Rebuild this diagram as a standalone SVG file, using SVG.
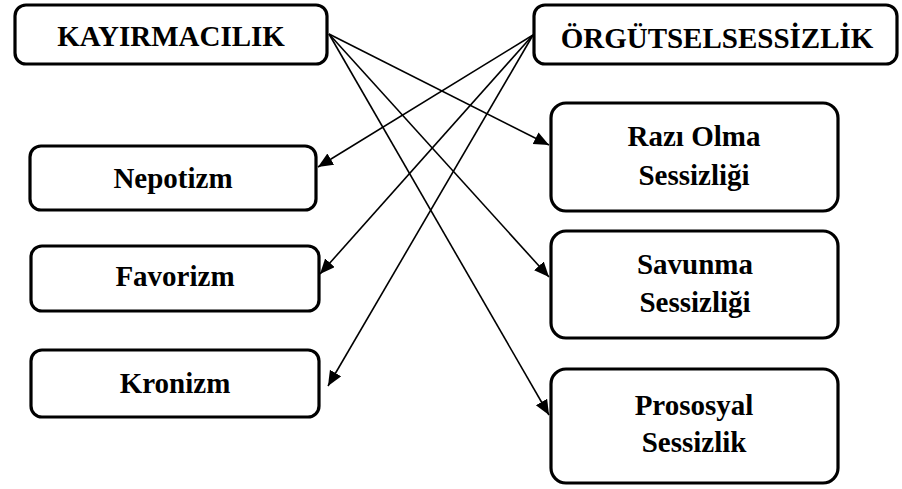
<svg xmlns="http://www.w3.org/2000/svg" width="902" height="489" viewBox="0 0 902 489">
<style>
.box{fill:#fff;stroke:#000;stroke-width:3.2}
.t{font-family:'Liberation Serif','Times New Roman',serif;font-weight:700;font-size:29px;fill:#000;text-anchor:middle}
.c{stroke:#000;stroke-width:1.6;fill:none;marker-end:url(#ah)}
</style>
<defs>
<marker id="ah" markerUnits="userSpaceOnUse" markerWidth="16" markerHeight="14" refX="15" refY="6.5" orient="auto">
<path d="M0,0 L15,6.5 L0,13 z" fill="#000"/>
</marker>
</defs>
<rect width="902" height="489" fill="#fff"/>
<g id="connectors">
<line class="c" x1="329" y1="34" x2="549" y2="145"/>
<line class="c" x1="329" y1="34" x2="549" y2="277"/>
<line class="c" x1="329" y1="34" x2="549" y2="415"/>
<line class="c" x1="533" y1="35" x2="318" y2="167"/>
<line class="c" x1="533" y1="35" x2="320" y2="274"/>
<line class="c" x1="533" y1="35" x2="328" y2="386"/>
</g>
<g id="kayirmacilik">
<rect class="box" x="15" y="5" width="312" height="59" rx="11"/>
<text class="t" x="171" y="46">KAYIRMACILIK</text>
</g>
<g id="orgutsel">
<rect class="box" x="534" y="5" width="363" height="59" rx="11"/>
<text class="t" x="717" y="48">ÖRGÜTSELSESSİZLİK</text>
</g>
<g id="nepotizm">
<rect class="box" x="30" y="146" width="286" height="64" rx="11"/>
<text class="t" x="173" y="188">Nepotizm</text>
</g>
<g id="favorizm">
<rect class="box" x="31" y="246" width="288" height="65" rx="11"/>
<text class="t" x="175" y="286">Favorizm</text>
</g>
<g id="kronizm">
<rect class="box" x="31" y="350" width="288" height="67" rx="11"/>
<text class="t" x="175" y="393">Kronizm</text>
</g>
<g id="razi">
<rect class="box" x="551" y="103" width="287" height="108" rx="15"/>
<text class="t" x="694" y="146">Razı Olma</text>
<text class="t" x="694" y="185">Sessizliği</text>
</g>
<g id="savunma">
<rect class="box" x="551" y="231" width="287" height="107" rx="15"/>
<text class="t" x="695" y="274">Savunma</text>
<text class="t" x="695" y="312">Sessizliği</text>
</g>
<g id="prosoyal">
<rect class="box" x="551" y="369" width="287" height="114" rx="15"/>
<text class="t" x="694" y="415">Prososyal</text>
<text class="t" x="694" y="452">Sessizlik</text>
</g>
</svg>
